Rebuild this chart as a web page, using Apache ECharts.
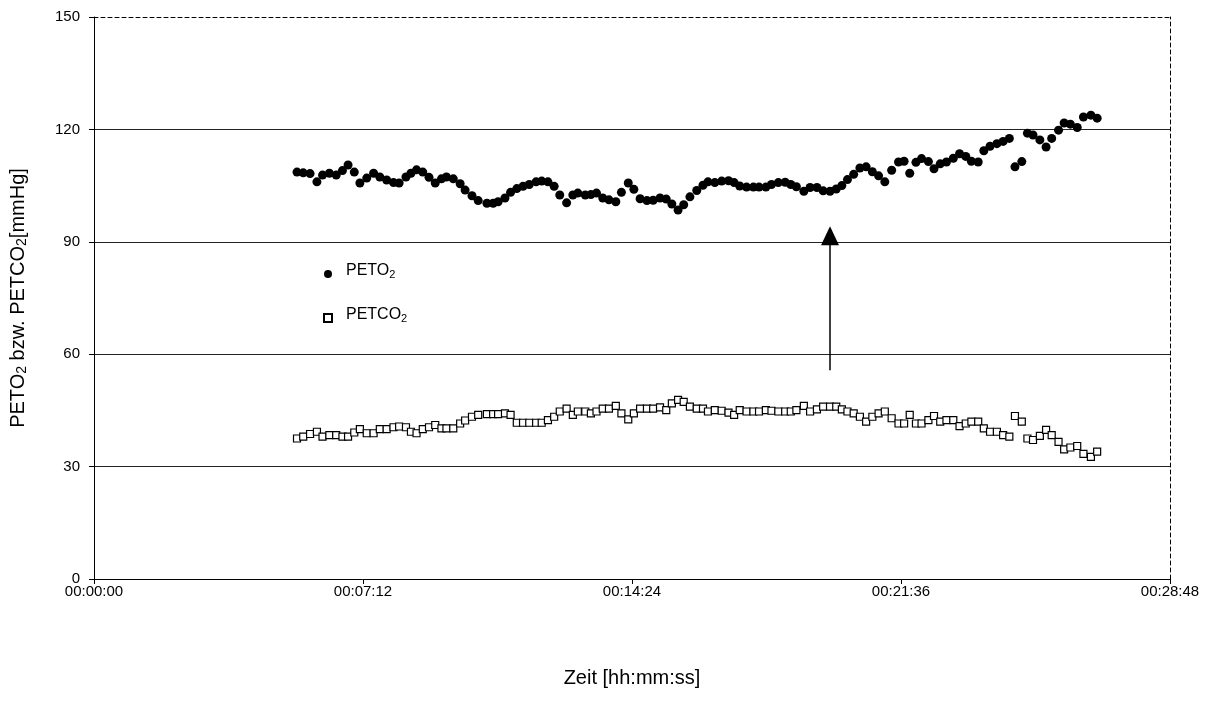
<!DOCTYPE html>
<html>
<head>
<meta charset="utf-8">
<script src="https://cdn.jsdelivr.net/npm/echarts@6/dist/echarts.min.js"></script>
<style>
  html, body { margin: 0; padding: 0; background: #fff; }
  #chart { width: 1213px; height: 718px; }
</style>
</head>
<body>
<div id="chart"></div>
<script>
// Breath-by-breath end-tidal gas pressures, time in seconds from start
const timeSec = [
  326, 336, 347, 358, 367, 378, 389, 399, 408, 418, 427, 438, 449, 459, 470, 481, 490, 501, 509, 518,
  528, 538, 548, 558, 566, 577, 588, 596, 607, 617, 631, 641, 649,
  660, 669, 679, 689, 699, 710, 719, 729, 739, 748, 759, 769, 777, 789, 798, 807, 817, 827, 838, 847,
  858, 867, 877, 888, 898, 909, 919, 928, 938, 947, 957, 968, 978, 986,
  997, 1008, 1019, 1028, 1037, 1048, 1059, 1068, 1079, 1088, 1099, 1110, 1119, 1128, 1140, 1150, 1161, 1171, 1182, 1192,
  1201, 1210, 1220, 1230, 1240, 1250, 1260, 1270, 1281, 1292, 1301, 1310, 1320,
  1329, 1340, 1349, 1359, 1369, 1380, 1390, 1400, 1409, 1420, 1429, 1439, 1450, 1460, 1470, 1479, 1490, 1499, 1508, 1519,
  1529, 1538, 1549, 1558, 1568, 1579, 1589, 1601, 1611
];

// PETO2 [mmHg]
const peto2 = [
  108.6, 108.4, 108.2, 106.0, 107.8, 108.3, 107.8, 109.0, 110.5, 108.6, 105.7, 107.0, 108.3, 107.3, 106.5, 105.8, 105.7, 107.3, 108.3, 109.2,
  108.6, 107.2, 105.7, 106.8, 107.3, 106.8, 105.5, 103.8, 102.3, 101.0, 100.3, 100.3, 100.7,
  101.7, 103.2, 104.2, 104.8, 105.3, 106.0, 106.2, 106.0, 104.8, 102.5, 100.4, 102.5, 103.0, 102.5, 102.6, 103.0, 101.7, 101.2, 100.7, 103.2,
  105.7, 104.0, 101.5, 101.0, 101.1, 101.7, 101.4, 100.1, 98.5, 99.9, 102.0, 103.7, 105.1, 106.0,
  105.8, 106.2, 106.3, 105.8, 104.9, 104.6, 104.6, 104.6, 104.6, 105.3, 105.8, 105.9, 105.3, 104.7, 103.5, 104.5, 104.5, 103.6, 103.5, 104.1,
  105.0, 106.6, 108.0, 109.7, 110.0, 108.7, 107.6, 106.0, 109.1, 111.3, 111.5, 108.3, 111.2,
  112.2, 111.4, 109.5, 110.8, 111.3, 112.3, 113.5, 112.8, 111.5, 111.3, 114.3, 115.5, 116.2, 116.8, 117.6, 110.0, 111.4, 119.0, 118.5, 117.2,
  115.3, 117.6, 119.8, 121.7, 121.4, 120.5, 123.3, 123.8, 123.0
];

// PETCO2 [mmHg]
const petco2 = [
  37.5, 38.0, 38.7, 39.3, 38.0, 38.4, 38.4, 38.0, 38.0, 39.1, 40.0, 38.9, 38.9, 40.0, 40.0, 40.5, 40.7, 40.5, 39.3, 38.9,
  40.0, 40.5, 41.1, 40.2, 40.2, 40.2, 41.5, 42.3, 43.3, 43.8, 44.0, 44.0, 44.0,
  44.2, 43.8, 41.7, 41.7, 41.7, 41.7, 41.7, 42.4, 43.3, 44.7, 45.5, 43.8, 44.7, 44.7, 44.2, 44.7, 45.5, 45.5, 46.2, 44.2,
  42.6, 44.2, 45.5, 45.5, 45.5, 45.8, 45.1, 46.9, 47.8, 47.3, 46.0, 45.5, 45.5, 44.7,
  45.1, 44.9, 44.4, 43.8, 45.1, 44.7, 44.7, 44.7, 45.1, 44.9, 44.7, 44.7, 44.7, 45.1, 46.2, 44.7, 45.3, 46.0, 46.0, 46.0,
  45.3, 44.7, 44.2, 43.3, 42.0, 43.3, 44.2, 44.7, 42.9, 41.5, 41.5, 43.8, 41.5,
  41.5, 42.4, 43.5, 42.0, 42.4, 42.4, 40.8, 41.5, 42.0, 42.0, 40.2, 39.3, 39.3, 38.4, 38.0, 43.5, 42.0, 37.5, 37.1, 38.2,
  39.8, 38.4, 36.6, 34.6, 35.1, 35.5, 33.4, 32.6, 34.0
];

// Axis ranges (seconds / mmHg)
const xMin = 0, xMax = 1728, xStep = 432;
const yMin = 0, yMax = 150, yStep = 30;

// Vertical arrow marking the change
const arrowTime = 1182;
const arrowFrom = 55.7;
const arrowTo = 91.6;

const seriesNames = ['PETO2', 'PETCO2'];

function hms(sec) {
  const h = Math.floor(sec / 3600);
  const m = Math.floor((sec % 3600) / 60);
  const s = Math.round(sec % 60);
  const p = n => String(n).padStart(2, '0');
  return p(h) + ':' + p(m) + ':' + p(s);
}

const FONT = '"Liberation Sans", Arial, sans-serif';
const chart = echarts.init(document.getElementById('chart'), null, { renderer: 'canvas' });

const option = {
  backgroundColor: '#fff',
  animation: false,
  textStyle: { fontFamily: FONT, color: '#000' },
  grid: { left: 94, right: 43, top: 17, bottom: 139, containLabel: false },
  legend: {
    data: [
      { name: seriesNames[0], icon: 'circle' },
      { name: seriesNames[1], icon: 'rect' }
    ],
    orient: 'vertical',
    left: 318,
    top: 258,
    itemWidth: 8,
    itemHeight: 8,
    itemGap: 27,
    selectedMode: false,
    formatter: name => name === 'PETO2' ? '{m|PETO}{s|2}' : '{m|PETCO}{s|2}',
    textStyle: {
      fontFamily: FONT,
      color: '#000',
      padding: [0, 0, 6, 9],
      rich: {
        m: { fontSize: 16, fontFamily: FONT, color: '#000' },
        s: { fontSize: 11, fontFamily: FONT, color: '#000', padding: [7, 0, 0, 0] }
      }
    }
  },
  xAxis: [
    {
      type: 'value',
      min: xMin, max: xMax, interval: xStep,
      name: 'Zeit [hh:mm:ss]',
      nameLocation: 'middle',
      nameGap: 89,
      nameTextStyle: { fontFamily: FONT, fontSize: 20, color: '#000' },
      axisLine: { show: true, onZero: false, lineStyle: { color: '#000', width: 1 } },
      axisTick: { show: true, inside: false, length: 5, lineStyle: { color: '#000' } },
      axisLabel: { fontFamily: FONT, fontSize: 15, color: '#000', margin: 5, formatter: v => hms(v) },
      splitLine: { show: false }
    },
    {
      type: 'value', position: 'top',
      min: xMin, max: xMax, interval: xStep,
      axisLine: { show: true, onZero: false, lineStyle: { color: '#000', width: 1, type: [4, 3] } },
      axisTick: { show: false }, axisLabel: { show: false }, splitLine: { show: false }
    }
  ],
  yAxis: [
    {
      type: 'value',
      min: yMin, max: yMax, interval: yStep,
      name: '{m|PETO}{s|2}{m| bzw. PETCO}{s|2}{m|[mmHg]}',
      nameLocation: 'middle',
      nameGap: 65,
      nameRotate: 90,
      nameTextStyle: {
        fontFamily: FONT, color: '#000',
        rich: {
          m: { fontSize: 20, fontFamily: FONT, color: '#000' },
          s: { fontSize: 14, fontFamily: FONT, color: '#000', padding: [8, 0, 0, 0] }
        }
      },
      axisLine: { show: true, onZero: false, lineStyle: { color: '#000', width: 1 } },
      axisTick: { show: true, inside: false, length: 5, lineStyle: { color: '#000' } },
      axisLabel: { fontFamily: FONT, fontSize: 15, color: '#000', margin: 14 },
      splitLine: { show: true, showMinLine: false, showMaxLine: false, lineStyle: { color: '#222', width: 1 } }
    },
    {
      type: 'value', position: 'right',
      min: yMin, max: yMax, interval: yStep,
      axisLine: { show: true, onZero: false, lineStyle: { color: '#000', width: 1, type: [4, 3] } },
      axisTick: { show: false }, axisLabel: { show: false }, splitLine: { show: false }
    }
  ],
  series: [
    {
      name: 'PETO2',
      type: 'scatter',
      symbol: 'circle',
      symbolSize: 9,
      itemStyle: { color: '#000', opacity: 1 },
      data: timeSec.map((t, i) => [t, peto2[i]]),
      silent: true,
      markLine: {
        silent: true,
        animation: false,
        symbol: ['none', 'triangle'],
        symbolSize: [18, 19],
        label: { show: false },
        lineStyle: { color: '#000', width: 1.5, type: 'solid' },
        itemStyle: { color: '#000' },
        data: [[{ coord: [arrowTime, arrowFrom] }, { coord: [arrowTime, arrowTo] }]]
      }
    },
    {
      name: 'PETCO2',
      type: 'scatter',
      symbol: 'rect',
      symbolSize: 7,
      itemStyle: { color: '#fff', borderColor: '#000', borderWidth: 1.2, opacity: 1 },
      data: timeSec.map((t, i) => [t, petco2[i]]),
      silent: true
    }
  ]
};

chart.setOption(option);
</script>
</body>
</html>
